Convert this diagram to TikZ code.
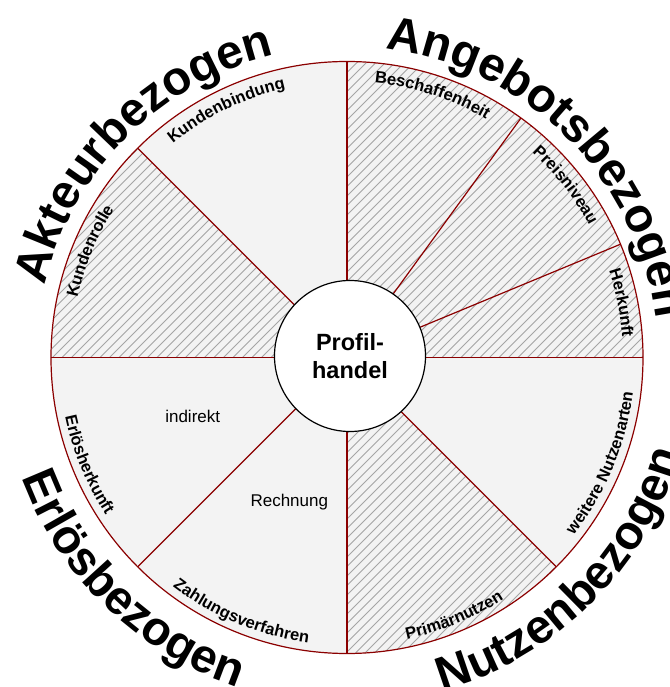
\documentclass[tikz,border=0pt]{standalone}
\usepackage{fontspec}
\setmainfont{Liberation Sans}
\usetikzlibrary{decorations.text}

\definecolor{rimred}{RGB}{139,0,0}
\definecolor{sectorgray}{RGB}{243,243,243}
\definecolor{hatchgray}{RGB}{165,165,165}

\newcommand\groupfont{\fontsize{47.5pt}{57pt}\selectfont\bfseries}
\newcommand\rimlabelfont{\fontsize{16.5pt}{20pt}\selectfont\bfseries}

\begin{document}
\begin{tikzpicture}[x=1pt, y=1pt,
    rimline/.style={draw=rimred, line width=1.2pt},
    hatchline/.style={draw=hatchgray, line width=0.8pt},
    hubcircle/.style={circle, draw=black, line width=1.2pt, fill=white,
      minimum size=151pt, inner sep=0pt, align=center,
      font=\fontsize{23.5pt}{28pt}\selectfont\bfseries},
    innerlabel/.style={font=\fontsize{17pt}{20pt}\selectfont, inner sep=0pt},
    % labels set along the rim
    outwardlabel/.style={decorate, decoration={text along path,
      text align=center, text={|\rimlabelfont|#1}}},
    inwardlabel/.style={decorate, decoration={text along path,
      text align=center, text={|\rimlabelfont|#1}}},
    grouplabel/.style={decorate, decoration={text along path,
      text align=center, text={|\groupfont|#1}}},
  ]
  \useasboundingbox (-347,-329.5) rectangle (322,357.5);

  \def\R{296pt}
  \coordinate (hub) at (0,0);

  % wheel background
  \fill[sectorgray] (hub) circle[radius=\R];

  % hatched sectors
  \foreach \a/\b in {135/180, 270/315, 0/90} {
    \begin{scope}
      \clip (hub) -- (\a:\R) arc[start angle=\a, end angle=\b, radius=\R] -- cycle;
      \foreach \k in {-70,...,70}
        \draw[hatchline] (\k*9.5-330, -330) -- ++(660,660);
    \end{scope}
  }

  % spokes
  \foreach \ang [count=\i] in {0,22.5,54,90,135,180,225,270,315} {
    \coordinate (rim\i) at (\ang:\R);
    \draw[rimline] (hub) -- (rim\i);
  }

  % outer rim
  \draw[rimline] (hub) circle[radius=\R];

  % hub
  \node[hubcircle] (centre) at (3,1.5) {Profil-\\handel};

  % sector labels, upper half (letters point outwards)
  \path[outwardlabel=Kundenbindung] (141:276) arc[start angle=141, end angle=91, radius=276];
  \path[outwardlabel=Kundenrolle] (182.5:276) arc[start angle=182.5, end angle=132.5, radius=276];
  \path[outwardlabel=Beschaffenheit] (97:276) arc[start angle=97, end angle=47, radius=276];
  \path[outwardlabel=Preisniveau] (63.25:276) arc[start angle=63.25, end angle=13.25, radius=276];
  \path[outwardlabel=Herkunft] (36.25:276) arc[start angle=36.25, end angle=-13.75, radius=276];

  % sector labels, lower half (letters point inwards)
  \path[inwardlabel=Erlösherkunft] (177.5:288) arc[start angle=177.5, end angle=227.5, radius=288];
  \path[inwardlabel=Zahlungsverfahren] (222.5:288) arc[start angle=222.5, end angle=272.5, radius=288];
  \path[inwardlabel=Primärnutzen] (267.5:288) arc[start angle=267.5, end angle=317.5, radius=288];
  \path[inwardlabel=weitere Nutzenarten] (312.5:288) arc[start angle=312.5, end angle=362.5, radius=288];

  % group headings around the wheel
  \path[grouplabel=Akteurbezogen] (185:311) arc[start angle=185, end angle=85, radius=311];
  \path[grouplabel=Angebotsbezogen] (95:311) arc[start angle=95, end angle=-5, radius=311];
  \path[grouplabel=Erlösbezogen] (176:347) arc[start angle=176, end angle=276, radius=347];
  \path[grouplabel=Nutzenbezogen] (265:347) arc[start angle=265, end angle=365, radius=347];

  % entries inside the sectors
  \node[innerlabel] (indirekt) at (-154.3,-59.2) {indirekt};
  \node[innerlabel] (rechnung) at (-57.7,-144.8) {Rechnung};
\end{tikzpicture}
\end{document}
